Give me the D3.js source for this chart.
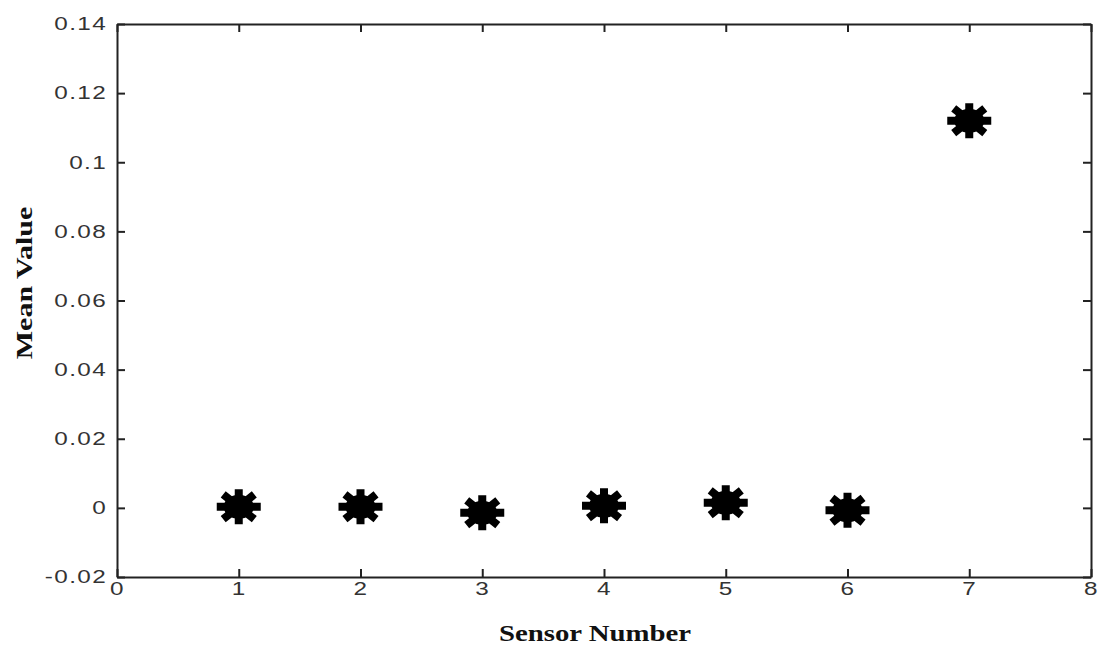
<!DOCTYPE html>
<html>
<head>
<meta charset="utf-8">
<script src="https://cdn.jsdelivr.net/npm/d3@7"></script>
<style>
  body { margin: 0; background: #fff; }
  svg { display: block; }
</style>
</head>
<body>
<div id="chart"></div>
<script>
const sensors = [1, 2, 3, 4, 5, 6, 7];
const meanValues = [0.0003, 0.0003, -0.0014, 0.0006, 0.0015, -0.0007, 0.112];

const xTicks = [0, 1, 2, 3, 4, 5, 6, 7, 8];
const xTickLabels = ["0", "1", "2", "3", "4", "5", "6", "7", "8"];
const yTicks = [-0.02, 0, 0.02, 0.04, 0.06, 0.08, 0.1, 0.12, 0.14];
const yTickLabels = ["-0.02", "0", "0.02", "0.04", "0.06", "0.08", "0.1", "0.12", "0.14"];

const W = 1098, H = 646;
const margin = { top: 24, right: 7, bottom: 69, left: 117 };
const width = W - margin.left - margin.right;
const height = H - margin.top - margin.bottom;

const svg = d3.select("#chart").append("svg")
  .attr("width", W)
  .attr("height", H);

const g = svg.append("g")
  .attr("transform", "translate(" + margin.left + "," + margin.top + ")");

const x = d3.scaleLinear().domain([0, 8]).range([0, width]);
const y = d3.scaleLinear().domain([-0.02, 0.14]).range([height, 0]);

const axisColor = "#222";
const tickFont = "'Liberation Sans', Arial, sans-serif";

function styleAxis(sel) {
  sel.select(".domain").attr("stroke", axisColor).attr("stroke-width", 2);
  sel.selectAll(".tick line").attr("stroke", axisColor).attr("stroke-width", 2);
}

// bottom axis
const gx = g.append("g")
  .attr("transform", "translate(0," + height + ")")
  .call(d3.axisBottom(x).tickValues(xTicks)
    .tickFormat((d, i) => xTickLabels[i])
    .tickSizeInner(-8).tickSizeOuter(0).tickPadding(5));
styleAxis(gx);
gx.selectAll("text")
  .attr("font-family", tickFont)
  .attr("font-size", 18)
  .attr("fill", "#333")
  .attr("letter-spacing", 1)
  .attr("transform", "scale(1.35,1)");

// left axis
const gy = g.append("g")
  .call(d3.axisLeft(y).tickValues(yTicks)
    .tickFormat((d, i) => yTickLabels[i])
    .tickSizeInner(-8).tickSizeOuter(0).tickPadding(10));
styleAxis(gy);
gy.selectAll("text")
  .attr("x", 0)
  .attr("font-family", tickFont)
  .attr("font-size", 18)
  .attr("fill", "#333")
  .attr("letter-spacing", 1)
  .attr("transform", "translate(-10,0) scale(1.35,1)");

// mirrored top/right axes (ticks only)
const gt = g.append("g")
  .call(d3.axisTop(x).tickValues(xTicks).tickFormat("")
    .tickSizeInner(-8).tickSizeOuter(0));
styleAxis(gt);

const gr = g.append("g")
  .attr("transform", "translate(" + width + ",0)")
  .call(d3.axisRight(y).tickValues(yTicks).tickFormat("")
    .tickSizeInner(-8).tickSizeOuter(0));
styleAxis(gr);

// eight-armed asterisk marker
function asterisk(rx, ry) {
  const p = d3.path();
  for (let k = 0; k < 4; k++) {
    const a = k * Math.PI / 4;
    const dx = rx * Math.cos(a), dy = ry * Math.sin(a);
    p.moveTo(-dx, -dy);
    p.lineTo(dx, dy);
  }
  return p.toString();
}

const pts = g.append("g")
  .selectAll("g")
  .data(sensors.map((s, i) => ({ s: s, v: meanValues[i] })))
  .join("g")
  .attr("transform", d => "translate(" + x(d.s) + "," + y(d.v) + ")");

pts.append("ellipse")
  .attr("rx", 15).attr("ry", 12)
  .attr("fill", "#000");

pts.append("path")
  .attr("d", asterisk(22, 17.5))
  .attr("fill", "none")
  .attr("stroke", "#000")
  .attr("stroke-width", 8);

// axis titles
const titleFont = "'Liberation Serif', 'Times New Roman', serif";

svg.append("text")
  .attr("transform", "translate(" + (margin.left + width / 2 - 9) + ",641) scale(1.2,1)")
  .attr("text-anchor", "middle")
  .attr("font-family", titleFont)
  .attr("font-weight", "bold")
  .attr("font-size", 24)
  .attr("fill", "#111")
  .text("Sensor Number");

svg.append("text")
  .attr("transform", "translate(32,283) rotate(-90) scale(1.25,1)")
  .attr("text-anchor", "middle")
  .attr("font-family", titleFont)
  .attr("font-weight", "bold")
  .attr("font-size", 24)
  .attr("fill", "#111")
  .text("Mean Value");
</script>
</body>
</html>
